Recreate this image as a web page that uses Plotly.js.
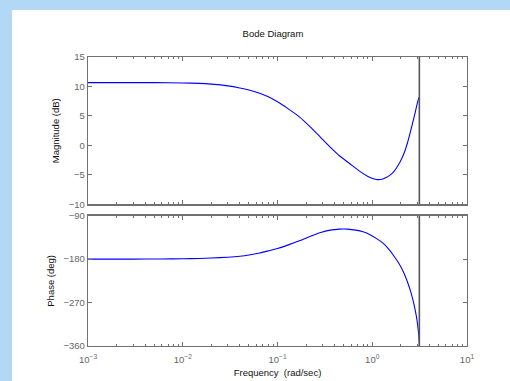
<!DOCTYPE html>
<html><head><meta charset="utf-8">
<script src="https://cdn.plot.ly/plotly-3.0.1.min.js"></script>
<style>
html,body{margin:0;padding:0;background:#b3d8f6;width:510px;height:381px;overflow:hidden}
#chart{position:absolute;left:12px;top:10px;width:498px;height:371px;background:#fff}
</style>
</head><body><div id="chart"></div>
<script>
// Magnitude curve (rad/sec, dB)
const magFreq = [0.001, 0.002, 0.005, 0.01, 0.015, 0.02, 0.03, 0.04, 0.05, 0.065, 0.08, 0.1, 0.13, 0.17, 0.22, 0.28, 0.36, 0.45, 0.58, 0.74, 0.9, 1.05, 1.15, 1.27, 1.4, 1.55, 1.7, 1.87, 2.05, 2.22, 2.36, 2.5, 2.61, 2.71, 2.83, 2.94, 3.03, 3.09, 3.1416];
const magDb   = [10.66, 10.66, 10.65, 10.6, 10.52, 10.4, 10.1, 9.75, 9.4, 8.85, 8.25, 7.4, 6.2, 4.85, 3.2, 1.5, -0.3, -1.75, -3.1, -4.4, -5.25, -5.7, -5.8, -5.72, -5.45, -5.0, -4.4, -3.4, -2.2, -0.85, 0.5, 2.0, 3.2, 4.25, 5.5, 6.65, 7.5, 7.95, 8.15];
// Phase curve (rad/sec, deg)
const phFreq  = [0.001, 0.003, 0.006, 0.01, 0.015, 0.02, 0.03, 0.04, 0.05, 0.065, 0.08, 0.1, 0.13, 0.17, 0.22, 0.28, 0.36, 0.45, 0.55, 0.67, 0.8, 0.95, 1.1, 1.3, 1.5, 1.7, 1.9, 2.06, 2.22, 2.38, 2.54, 2.69, 2.83, 2.97, 3.06, 3.11, 3.1416];
const phDeg   = [-180, -180, -179.7, -179.3, -178.6, -177.8, -176, -174, -171.5, -167.3, -163, -158, -150.5, -142, -133, -125.5, -120, -117.8, -117.8, -120, -123.5, -129.5, -137, -147, -160, -174, -188, -200.5, -214.5, -230, -247, -265, -284, -307, -328, -342, -360];
// Nyquist frequency marker
const nyquist = 3.1416;
const magRange = [-10, 15];
const phRange = [-360, -90];
const magTicks = [-10, -5, 0, 5, 10, 15];
const phTicks = [-360, -270, -180, -90];
const xTickVals = [0.001, 0.01, 0.1, 1, 10];
const xTickText = ['10<sup>\u22123</sup>', '10<sup>\u22122</sup>', '10<sup>\u22121</sup>', '10<sup>0</sup>', '10<sup>1</sup>'];

const minorVals = [];
for (let d = -3; d < 1; d++) for (let m = 2; m <= 9; m++) minorVals.push(m * Math.pow(10, d));

const FONT = 'Liberation Sans, Arial, Helvetica, sans-serif';
const blue = '#0000ff';

const traces = [
  {x: magFreq, y: magDb, xaxis: 'x', yaxis: 'y', mode: 'lines', line: {color: blue, width: 1.1, shape: 'spline', smoothing: 0.6}, hoverinfo: 'skip'},
  {x: phFreq, y: phDeg, xaxis: 'x2', yaxis: 'y2', mode: 'lines', line: {color: blue, width: 1.1, shape: 'spline', smoothing: 0.6}, hoverinfo: 'skip'},
  {x: [nyquist, nyquist], y: magRange, xaxis: 'x', yaxis: 'y', mode: 'lines', line: {color: '#555555', width: 1.6}, hoverinfo: 'skip'},
  {x: [nyquist, nyquist], y: phRange, xaxis: 'x2', yaxis: 'y2', mode: 'lines', line: {color: '#555555', width: 1.6}, hoverinfo: 'skip'}
];

const axColor = '#707070';
const xBase = {
  type: 'log', range: [-3, 1], tickmode: 'array', tickvals: xTickVals, ticktext: xTickText,
  ticks: 'inside', ticklen: 4, tickcolor: axColor, showline: true, linecolor: axColor, linewidth: 1.3,
  mirror: 'ticks', showgrid: false, zeroline: false,
  minor: {tickvals: minorVals, ticks: 'inside', ticklen: 2, tickcolor: axColor, showgrid: false},
  tickfont: {family: FONT, size: 9.5, color: '#666'}
};
const yBase = {
  ticks: 'inside', ticklen: 4, tickcolor: axColor, showline: true, linecolor: axColor, linewidth: 1.3,
  mirror: 'ticks', showgrid: false, zeroline: false, tickmode: 'array',
  tickfont: {family: FONT, size: 9.5, color: '#666'}
};

const layout = {
  width: 498, height: 371,
  margin: {l: 76, r: 43, t: 47, b: 35},
  paper_bgcolor: '#ffffff', plot_bgcolor: '#ffffff',
  showlegend: false,
  font: {family: FONT, size: 9.5, color: '#222'},
  title: {text: 'Bode Diagram', font: {family: FONT, size: 9.5, color: '#111'}, x: 0.524, xanchor: 'center', y: 0.935, yanchor: 'middle'},
  xaxis: Object.assign({}, xBase, {domain: [0, 1], anchor: 'y', showticklabels: false}),
  xaxis2: Object.assign({}, xBase, {domain: [0, 1], anchor: 'y2', matches: 'x', ticklabelstandoff: 4,
    title: {text: 'Frequency \u00a0(rad/sec)', font: {family: FONT, size: 9.5, color: '#111'}, standoff: 5}}),
  yaxis: Object.assign({}, yBase, {domain: [0.49, 1], anchor: 'x', range: magRange, tickvals: magTicks,
    title: {text: 'Magnitude (dB)', font: {family: FONT, size: 9.5, color: '#111'}, standoff: 7}}),
  yaxis2: Object.assign({}, yBase, {domain: [0, 0.451], anchor: 'x2', range: phRange, tickvals: phTicks,
    title: {text: 'Phase (deg)', font: {family: FONT, size: 9.5, color: '#111'}, standoff: 7}})
};

Plotly.newPlot('chart', traces, layout, {staticPlot: true, displayModeBar: false});
</script>
</body></html>
